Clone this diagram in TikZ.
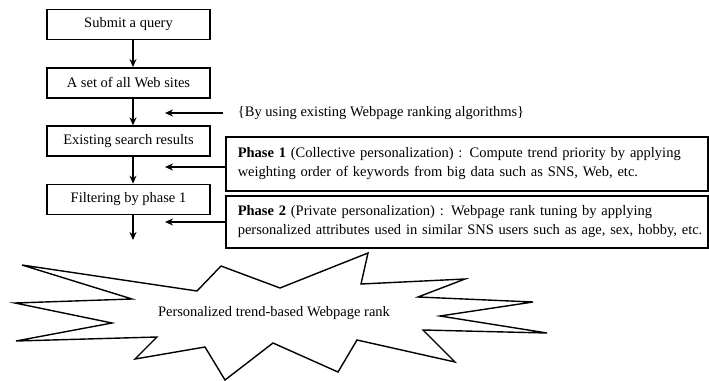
\documentclass[tikz,border=0pt]{standalone}
\usepackage{fontspec}
\setmainfont{Liberation Serif}
\usetikzlibrary{shapes,arrows,arrows.meta,positioning,calc}

\begin{document}
\begin{tikzpicture}[x=1pt, y=-1pt, ->, >={Stealth[length=8pt,width=7pt]}, line width=1.3pt, node distance=58.3pt,
    every node/.style={font=\fontsize{14.5}{19}\selectfont},
    stepbox/.style={draw, line width=1.5pt, minimum width=163pt, minimum height=30pt, inner sep=2pt},
    phasebox/.style={draw, line width=1.5pt, anchor=north west, text width=458pt, inner xsep=12pt, minimum height=54pt, align=left}]
        \useasboundingbox (0,0) rectangle (709,380);

        % main flow
        \node[stepbox] (query) at (128.5,24.5) {Submit a query};
        \node[stepbox] (sites) [below of=query] {A set of all Web sites};
        \node[stepbox] (existing) [below of=sites] {Existing search results};
        \node[stepbox] (filter) [below of=existing] {Filtering by phase 1};
        \coordinate (out) at (133,240);

        % side notes
        \coordinate (noteIn) at (165,113);
        \coordinate (phase1In) at (165,167);
        \coordinate (phase2In) at (165,222);
        \node[anchor=west] (note) at (234,113) {\{By using existing Webpage ranking algorithms\}};
        \node[phasebox] (phase1) at (225,136) {\makebox[458pt][s]{\textbf{Phase 1} (Collective personalization) : Compute trend priority by applying}\\
            \mbox{weighting order of keywords from big data such as SNS, Web, etc.}};
        \node[phasebox, minimum height=52pt] (phase2) at (225,195) {\mbox{\textbf{Phase 2} (Private personalization) : Webpage rank tuning by applying}\\
            \mbox{personalized attributes used in similar SNS users such as age, sex, hobby, etc.}};

        % starburst
        \draw[-, line width=1.4pt, fill=white] (22,265) -- (197,291) -- (221,266) -- (280,288) -- (368,253)
            -- (361,284) -- (465,279) -- (418,297) -- (533,302) -- (440,316) -- (547,333)
            -- (423,330) -- (455,362) -- (357,340) -- (338,372) -- (273,343) -- (225,380)
            -- (205,347) -- (135,359) -- (157,337) -- (16,341) -- (112,323) -- (15,303)
            -- (132,299) -- cycle;
        \node (rank) at (274,313) {Personalized trend-based Webpage rank};

        \path ([xshift=4.5pt]query.south) edge ([xshift=4.5pt]sites.north)
              ([xshift=4.5pt]sites.south) edge ([xshift=4.5pt]existing.north)
              ([xshift=4.5pt]existing.south) edge ([xshift=4.5pt]filter.north)
              ([xshift=4.5pt]filter.south) edge (out)
              (note) edge [shorten <=11pt] (noteIn)
              (phase1.west |- phase1In) edge (phase1In)
              (phase2.west |- phase2In) edge (phase2In);
    \end{tikzpicture}
\end{document}
